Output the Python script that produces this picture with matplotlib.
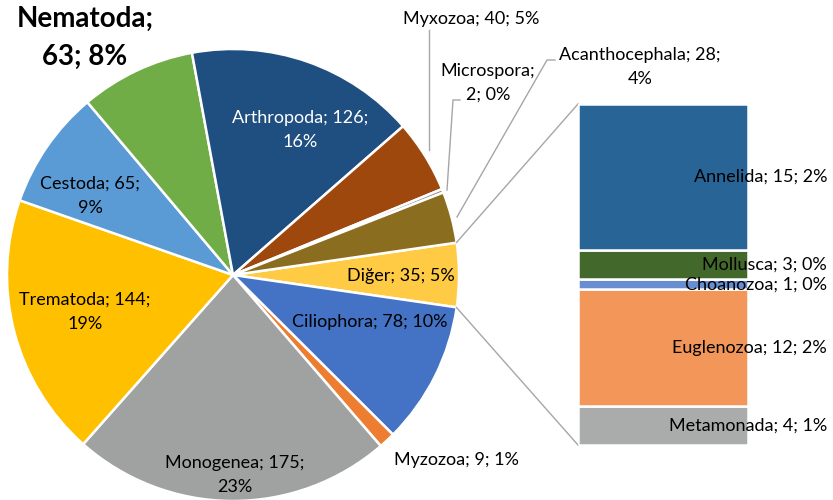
import matplotlib
matplotlib.use('Agg')
import matplotlib.pyplot as plt

# pie slices, clockwise starting at the "Diğer" slice (centred on 3 o'clock)
pie_names = ['Diğer', 'Ciliophora', 'Myzozoa', 'Monogenea', 'Trematoda', 'Cestoda',
             'Nematoda', 'Arthropoda', 'Myxozoa', 'Microspora', 'Acanthocephala']
pie_values = [35, 78, 9, 175, 144, 65, 63, 126, 40, 2, 28]
pie_colors = ['#FFCB45', '#4472C4', '#ED7D31', '#A0A2A2', '#FFC000', '#5B9BD5',
              '#70AD47', '#1F4E80', '#9E480E', '#8C8C8C', '#8A6D1E']

# the "Diğer" breakdown bar, bottom to top
bar_names = ['Metamonada', 'Euglenozoa', 'Choanozoa', 'Mollusca', 'Annelida']
bar_values = [4, 12, 1, 3, 15]
bar_colors = ['#AAACAC', '#F39659', '#698ED0', '#43682B', '#286495']

total = sum(pie_values)
plt.rcParams['font.family'] = ['Lato', 'DejaVu Sans']

fig = plt.figure(figsize=(8.33, 5.0), dpi=100)
ax = fig.add_axes([0, 0, 1, 1])

cx, cy, r = 233, 225, 226
start = pie_values[0] / total * 360 / 2
ax.pie(pie_values, colors=pie_colors, startangle=start, counterclock=False,
       center=(cx, cy), radius=r, frame=True,
       wedgeprops=dict(edgecolor='white', linewidth=1.8))
ax.set_xlim(0, 833)
ax.set_ylim(0, 500)
ax.set_aspect('equal')
ax.axis('off')


def lab(name, v):
    return f'{name}; {v}; {round(v / total * 100):.0f}%'


fs = 13
ls = 1.6
# labels inside / around the pie (pixel positions, y measured from top)
def put(x, y, s, **kw):
    kw.setdefault('fontsize', fs)
    kw.setdefault('linespacing', ls)
    ax.text(x, 500 - y, s, ha=kw.pop('ha', 'center'), va='center', **kw)


pv = dict(zip(pie_names, pie_values))
put(85, 38, 'Nematoda;\n63; 8%', fontsize=20, fontweight='bold', linespacing=1.55)
put(300, 130, 'Arthropoda; 126;\n16%', color='white')
put(90, 196, 'Cestoda; 65;\n9%')
put(85, 312, 'Trematoda; 144;\n19%')
put(235, 475, 'Monogenea; 175;\n23%')
put(370, 322, lab('Ciliophora', pv['Ciliophora']))
put(401, 276, lab('Diğer', pv['Diğer']))
put(456, 460, lab('Myzozoa', pv['Myzozoa']))
put(471, 19, lab('Myxozoa', pv['Myxozoa']))
put(488, 83, 'Microspora;\n2; 0%')
put(640, 67, 'Acanthocephala; 28;\n4%')

# leader lines
lc = '#A6A6A6'
for pts in ([(429, 30), (429, 150)],
            [(460, 100), (453, 100), (447, 190)],
            [(555, 60), (547, 60), (457, 217)]):
    ax.plot([p[0] for p in pts], [500 - p[1] for p in pts], color=lc, lw=1)

# connectors pie -> bar
bx0, by0, bw, bh = 578, 55, 170, 341
ax.plot([456.5, bx0], [257.5, by0 + bh], color=lc, lw=1)
ax.plot([456.5, bx0], [192.5, by0], color=lc, lw=1)

# stacked bar of the "Diğer" group
bax = fig.add_axes([bx0 / 833, by0 / 500, bw / 833, bh / 500])
tr = bax.get_yaxis_transform()
bottom = 0
for name, v, c in zip(bar_names, bar_values, bar_colors):
    bax.bar(0, v, bottom=bottom, width=1, color=c, edgecolor='white', linewidth=1.8)
    bax.text(1.465, bottom + v / 2, lab(name, v), ha='right', va='center',
             fontsize=fs, transform=tr, clip_on=False)
    bottom += v
bax.set_xlim(-0.5, 0.5)
bax.set_ylim(0, sum(bar_values))
bax.axis('off')

fig.savefig('out.png', dpi=100)
